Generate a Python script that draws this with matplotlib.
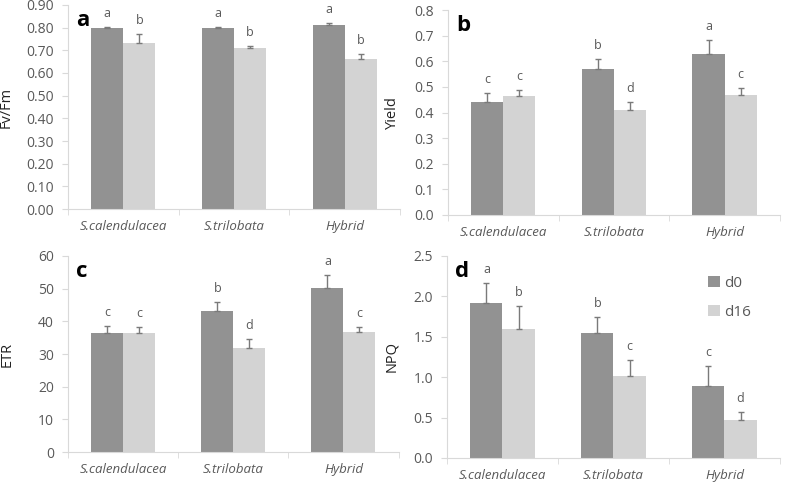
import matplotlib.pyplot as plt
import numpy as np

plt.rcParams['font.family'] = ['Open Sans', 'DejaVu Sans']

species = ['S.calendulacea', 'S.trilobata', 'Hybrid']
series = ['d0', 'd16']

# Fv/Fm
fvfm_d0 = [0.80, 0.80, 0.81]
fvfm_d16 = [0.73, 0.71, 0.66]
fvfm_err_d0 = [0.003, 0.004, 0.01]
fvfm_err_d16 = [0.04, 0.01, 0.025]
fvfm_let_d0 = ['a', 'a', 'a']
fvfm_let_d16 = ['b', 'b', 'b']

# Yield
yield_d0 = [0.44, 0.57, 0.63]
yield_d16 = [0.465, 0.41, 0.47]
yield_err_d0 = [0.035, 0.04, 0.055]
yield_err_d16 = [0.025, 0.03, 0.025]
yield_let_d0 = ['c', 'b', 'a']
yield_let_d16 = ['c', 'd', 'c']

# ETR
etr_d0 = [36.5, 43.2, 50.3]
etr_d16 = [36.4, 31.9, 36.8]
etr_err_d0 = [2.0, 2.8, 4.0]
etr_err_d16 = [1.8, 2.8, 1.4]
etr_let_d0 = ['c', 'b', 'a']
etr_let_d16 = ['c', 'd', 'c']

# NPQ
npq_d0 = [1.92, 1.54, 0.89]
npq_d16 = [1.59, 1.02, 0.47]
npq_err_d0 = [0.24, 0.21, 0.25]
npq_err_d16 = [0.29, 0.19, 0.10]
npq_let_d0 = ['a', 'b', 'c']
npq_let_d16 = ['b', 'c', 'd']

dark = '#929292'
light = '#d3d3d3'
txt = '#595959'
spine = '#d9d9d9'


def panel(ax, d0, d16, e0, e16, l0, l16, ylab, tag, ymax, step, fmt, labx):
    x = np.arange(len(species))
    w = 0.29
    for vals, err, lets, col, off, name in [(d0, e0, l0, dark, -w/2, series[0]),
                                             (d16, e16, l16, light, w/2, series[1])]:
        ax.bar(x + off, vals, w, color=col, label=name, zorder=2)
        ax.errorbar(x + off, vals, yerr=[np.zeros(3), err], fmt='none',
                    ecolor='#7a7a7a', elinewidth=1.0, capsize=2, capthick=1.0, zorder=3)
        for xi, v, e, s in zip(x + off, vals, err, lets):
            ax.annotate(s, (xi, v + e), xytext=(0, 5), textcoords='offset points',
                        ha='center', va='bottom', fontsize=9, color=txt)
    ax.set_xlim(-0.5, 2.5)
    ax.set_ylim(0, ymax)
    ax.set_yticks(np.arange(0, ymax + step / 2, step))
    ax.yaxis.set_major_formatter(plt.FormatStrFormatter(fmt))
    ax.set_xticks(x)
    ax.set_xticklabels(species, fontstyle='italic', fontsize=9.5, color=txt)
    ax.set_xticks([-0.5, 0.5, 1.5, 2.5], minor=True)
    ax.tick_params(axis='x', which='major', length=0, pad=8)
    ax.tick_params(axis='x', which='minor', length=4, color=spine)
    ax.tick_params(axis='y', length=4, color=spine, labelsize=10, labelcolor=txt, pad=6)
    for s in ['top', 'right']:
        ax.spines[s].set_visible(False)
    for s in ['left', 'bottom']:
        ax.spines[s].set_color(spine)
    ax.set_ylabel(ylab, fontsize=10.5, color='#222222')
    ax.yaxis.set_label_coords(labx, 0.5)
    ax.text(0.025, 0.975, tag, transform=ax.transAxes, fontsize=16, fontweight='bold',
            va='top', ha='left', color='black')


fig = plt.figure(figsize=(7.87, 4.82), dpi=100)
ax_a = fig.add_axes([0.0864, 0.566, 0.422, 0.424])
ax_b = fig.add_axes([0.569, 0.554, 0.422, 0.425])
ax_c = fig.add_axes([0.0864, 0.062, 0.42, 0.407])
ax_d = fig.add_axes([0.568, 0.050, 0.423, 0.419])

panel(ax_a, fvfm_d0, fvfm_d16, fvfm_err_d0, fvfm_err_d16, fvfm_let_d0, fvfm_let_d16,
      'Fv/Fm', 'a', 0.9, 0.1, '%.2f', -0.163)
panel(ax_b, yield_d0, yield_d16, yield_err_d0, yield_err_d16, yield_let_d0, yield_let_d16,
      'Yield', 'b', 0.8, 0.1, '%.1f', -0.145)
panel(ax_c, etr_d0, etr_d16, etr_err_d0, etr_err_d16, etr_let_d0, etr_let_d16,
      'ETR', 'c', 60, 10, '%d', -0.16)
panel(ax_d, npq_d0, npq_d16, npq_err_d0, npq_err_d16, npq_let_d0, npq_let_d16,
      'NPQ', 'd', 2.5, 0.5, '%.1f', -0.143)

ax_d.legend(loc='upper right', bbox_to_anchor=(0.955, 0.97), frameon=False, fontsize=11,
            handlelength=0.8, handleheight=0.8, handletextpad=0.3, labelspacing=0.9,
            labelcolor=txt)

fig.savefig('out.png', dpi=100)
